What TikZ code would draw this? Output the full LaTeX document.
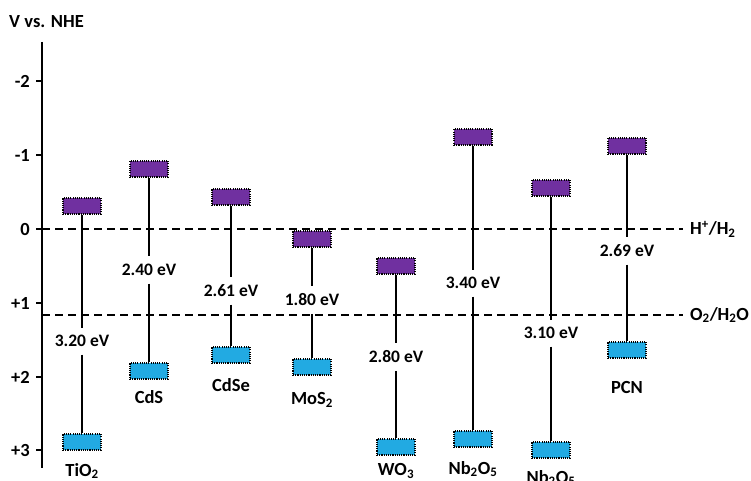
\documentclass[tikz,border=0pt]{standalone}
\usepackage{fontspec}
\setmainfont{Carlito}
\definecolor{cbpurple}{HTML}{7030A0}
\definecolor{vbcyan}{HTML}{22AAE2}
\begin{document}
\begin{tikzpicture}[x=1pt,y=-1pt,
  lbl/.style={font=\bfseries\fontsize{18.5}{21}\selectfont, inner sep=1pt},
  gaplbl/.style={font=\bfseries\fontsize{17.5}{20}\selectfont, inner xsep=2pt, inner ysep=7.5pt},
  bandbox/.style={rectangle, minimum width=38pt, minimum height=16pt, inner sep=0pt,
     draw=black, line width=1.4pt, dash pattern=on 1.1pt off 1.1pt},
  cbbox/.style={bandbox, fill=cbpurple},
  vbbox/.style={bandbox, fill=vbcyan},
  bar/.style={line width=1.8pt, black},
  axisline/.style={line width=2.2pt, black},
  redox/.style={line width=1.9pt, dash pattern=on 8pt off 5pt, black}
]
\useasboundingbox (0,0) rectangle (751,481);
% axis
\node[lbl, anchor=west] (title) at (8,22) {V vs. NHE};
\coordinate (atop) at (42,42);
\coordinate (abot) at (42,468);
\draw[axisline] (atop) -- (abot);
\foreach \yy/\tt/\nm in {81/-2/ta, 155/-1/tb, 229/0/tc, 303/+1/td, 377/+2/te, 450/+3/tf}{
  \coordinate (\nm) at (42,\yy);
  \coordinate (\nm l) at (36,\yy);
  \draw[axisline] (\nm) -- (\nm l);
  \node[lbl, anchor=east] (\nm t) at (31,\yy) {\tt};
}
% redox levels
\coordinate (hstart) at (42,229);
\coordinate (hend) at (683,229);
\coordinate (ostart) at (42,315);
\coordinate (oend) at (683,315);
\draw[redox] (hstart) -- (hend);
\draw[redox] (ostart) -- (oend);
\node[lbl, anchor=west] (hlab) at (689,229) {H\textsuperscript{+}/H\textsubscript{2}};
\node[lbl, anchor=west] (olab) at (689,315) {O\textsubscript{2}/H\textsubscript{2}O};
% materials: name / x / CB y / VB y / gap y / label y / gap text / label text
\foreach \m/\xx/\cy/\vy/\gy/\ly/\gt/\lt in {
  tio/82/206/442/341/471/3.20 eV/TiO\textsubscript{2},
  cds/149/169/371/270/397/2.40 eV/CdS,
  cdse/231/197/355/291/385/2.61 eV/CdSe,
  mos/312/239/367/300/400/1.80 eV/MoS\textsubscript{2},
  wo/396/266/447/357/471/2.80 eV/WO\textsubscript{3},
  nba/473/137/439/283/469/3.40 eV/Nb\textsubscript{2}O\textsubscript{5},
  nbb/551/188/450/333/478/3.10 eV/Nb\textsubscript{2}O\textsubscript{5},
  pcn/627/146/350/251/387/2.69 eV/PCN}{
  \node[cbbox] (\m cb) at (\xx,\cy) {};
  \node[vbbox] (\m vb) at (\xx,\vy) {};
  \node[gaplbl] (\m gap) at (\xx,\gy) {\gt};
  \node[lbl] (\m name) at (\xx,\ly) {\lt};
  \draw[bar] (\m cb.south) -- (\m gap.north);
  \draw[bar] (\m gap.south) -- (\m vb.north);
}
\end{tikzpicture}
\end{document}
